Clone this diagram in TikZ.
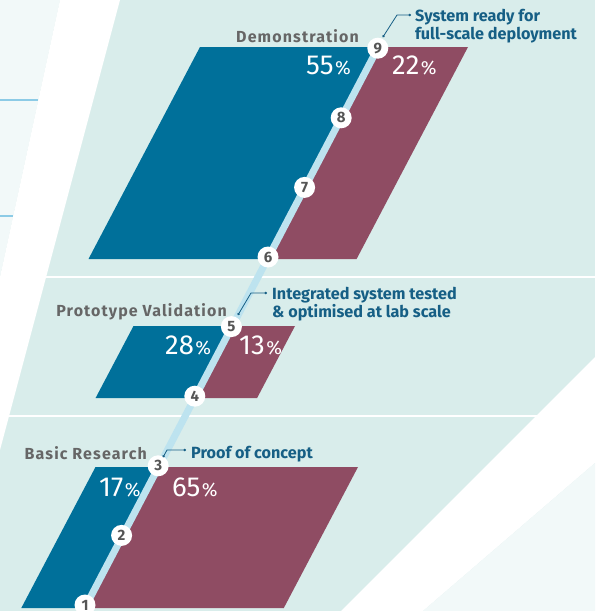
\documentclass[tikz,border=0pt]{standalone}
\usepackage{fontspec}
\setmainfont{Fira Sans}
\newfontfamily\stagefont[LetterSpace=7]{Fira Sans}
\newfontfamily\pctfont{Fira Sans}
\usetikzlibrary{positioning, calc, arrows.meta}

\definecolor{mint}{HTML}{D9EDEB}
\definecolor{paleback}{HTML}{F2F9F9}
\definecolor{stageblue}{HTML}{00709A}
\definecolor{stagered}{HTML}{8F4C63}
\definecolor{trackblue}{HTML}{BDE3EF}
\definecolor{notetext}{HTML}{165F85}
\definecolor{stagegray}{HTML}{666666}
\definecolor{numgray}{HTML}{555555}
\definecolor{tickblue}{HTML}{8CCBE6}

\newcommand\pcent[1]{#1\kern1.5pt{\fontsize{19}{19}\selectfont\%}}

\tikzset{
  trl/.style={circle, fill=white, inner sep=0pt, minimum size=21pt, text=numgray, font=\fontsize{15}{15}\selectfont\bfseries},
  stage/.style={inner sep=0pt, text=stagegray, font=\fontsize{16}{16}\selectfont\stagefont\bfseries},
  pct/.style={inner sep=0pt, text=white, font=\fontsize{27.5}{27.5}\selectfont\pctfont},
  note/.style={inner sep=0pt, align=left, text=notetext, font=\fontsize{16.2}{18.5}\selectfont\bfseries},
  leader/.style={notetext, line width=0.8pt, {Circle[length=2.4pt]}-{Circle[length=2.4pt]}}
}

\begin{document}
\begin{tikzpicture}[x=1pt, y=-1pt]
\clip (0,0) rectangle (595,611);
\fill[mint] (0,0) rectangle (595,611);
\fill[paleback] (0,0) -- (60,0) -- (0,277) -- cycle;
\fill[white] (60,0) -- (120,0) -- (0,450) -- (0,277) -- cycle;
\fill[white] (595,357) -- (595,463) -- (423,611) -- (341,611) -- cycle;
\fill[paleback] (595,463) -- (595,611) -- (423,611) -- cycle;
\draw[white, line width=1.5pt] (46,277) -- (595,277);
\draw[white, line width=1.5pt] (9,416) -- (537,416);
\draw[tickblue, line width=1.5pt] (0,100) -- (38,100);
\draw[tickblue, line width=1.5pt] (0,216) -- (13,216);

\fill[stageblue] (200,47) -- (378.4,47) -- (267,259) -- (88.5,259) -- cycle;
\fill[stagered] (378.4,47) -- (468,47) -- (356.6,259) -- (267,259) -- cycle;
\fill[stageblue] (133.5,326) -- (231.7,326) -- (193.9,398) -- (95.6,398) -- cycle;
\fill[stagered] (231.7,326) -- (295,326) -- (257.1,398) -- (193.9,398) -- cycle;
\fill[stageblue] (95.5,467) -- (157.6,467) -- (83.4,608) -- (21.3,608) -- cycle;
\fill[stagered] (157.6,467) -- (358,467) -- (283.8,608) -- (83.4,608) -- cycle;

\foreach \i in {1,...,9}
  \coordinate (s\i) at ({85+36.6*(\i-1)},{605-69.6*(\i-1)});
\coordinate (trackend) at (81.6,614);
\draw[trackblue, line width=7pt] (trackend) -- (s9);
\foreach \i in {1,...,9}
  \node[trl] (c\i) at (s\i) {\i};

\node[stage, anchor=base east] (demo) at (359,42) {Demonstration};
\node[stage, anchor=base east] (proto) at (227,316) {Prototype Validation};
\node[stage, anchor=base east] (basic) at (147,459) {Basic Research};

\node[pct, anchor=base west] (p55) at (306,74) {\pcent{55}};
\node[pct, anchor=base west] (p22) at (392,74) {\pcent{22}};
\node[pct, anchor=base west] (p28) at (165,354) {\pcent{28}};
\node[pct, anchor=base west] (p13) at (239,354) {\pcent{13}};
\node[pct, anchor=base west] (p17) at (99,496) {\pcent{17}};
\node[pct, anchor=base west] (p65) at (172,496) {\pcent{65}};

\node[note, anchor=base west] (note9) at (415,39.5) {System ready for\\full-scale deployment};
\node[note, anchor=base west] (note5) at (272,317.5) {Integrated system tested\\\& optimised at lab scale};
\node[note, anchor=base west] (note3) at (191,458) {Proof of concept};

\coordinate (bend9) at (397,15);
\coordinate (bend5) at (251,293);
\coordinate (bend3) at (167,450);
\draw[leader] ($(c9)+(5,-11)$) -- (bend9) -- ($(bend9 -| note9.west)+(-4,0)$);
\draw[leader] ($(c5)+(6.5,-11.5)$) -- (bend5) -- ($(bend5 -| note5.west)+(-5,0)$);
\draw[leader] ($(c3)+(4.8,-8.5)$) -- (bend3) -- ($(bend3 -| note3.west)+(-5,0)$);
\end{tikzpicture}
\end{document}
